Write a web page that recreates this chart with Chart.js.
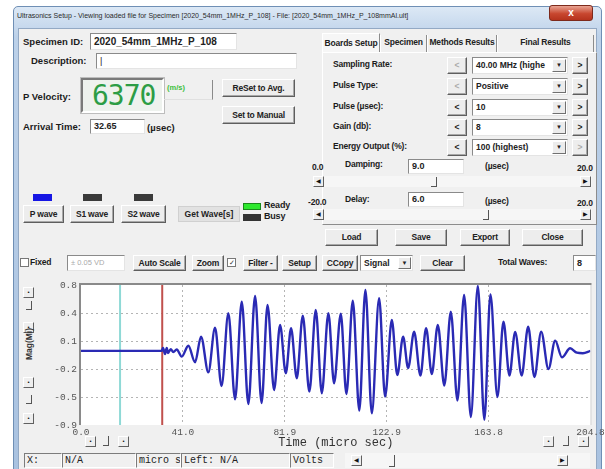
<!DOCTYPE html>
<html>
<head>
<meta charset="utf-8">
<title>Ultrasonics Setup</title>
<script src="https://cdn.jsdelivr.net/npm/chart.js@4.4.1/dist/chart.umd.min.js"></script>
<style>
  html, body { margin: 0; padding: 0; }
  body { width: 605px; height: 469px; position: relative; overflow: hidden; background: #fff;
         font-family: 'Liberation Sans', Arial, sans-serif; }
  .abs { position: absolute; box-sizing: border-box; white-space: nowrap; overflow: hidden; }
  .frame { background: linear-gradient(#dce8f5, #bcd1e9 30px, #a9c2e0); border: 1px solid #6f8fb5; border-radius: 5px 5px 0 0; }
  .content { background: #f0f0f0; border: 1px solid #93a9c4; }
  .title { font-size: 7px; color: #2b2b2b; }
  .close { background: linear-gradient(#e9a493, #c8472f 55%, #b5331d); border: 1px solid #7d2a1c; border-radius: 3px;
           color: #fff; font-weight: bold; font-size: 10px; text-align: center; }
  .lbl { font-weight: bold; font-size: 9.5px; color: #1c1c1c; overflow: visible; }
  .lbl2 { font-weight: bold; font-size: 8.5px; letter-spacing: -0.2px; color: #1c1c1c; overflow: visible; }
  .btn { background: #ededed; border: 1px solid; border-color: #fff #5e5e5e #5e5e5e #fff; box-shadow: inset -1px -1px 0 #a8a8a8;
         text-align: center; font-weight: bold; font-size: 8.5px; letter-spacing: -0.2px; color: #222; }
  .flat { background: #e2e2e2; border: 1px solid #d0d0d0; text-align: center; font-weight: bold; font-size: 8.5px; color: #222; }
  .inp { background: #fff; border: 1px solid; border-color: #8a8a8a #e4e4e4 #e4e4e4 #8a8a8a; padding-left: 3px;
         font-weight: bold; font-size: 9px; color: #222; }
  .combo { background: #fff; border: 1px solid; border-color: #8a8a8a #e4e4e4 #e4e4e4 #8a8a8a; padding-left: 3px;
           font-weight: bold; font-size: 8.5px; color: #222; }
  .drop { background: #ececec; border: 1px solid; border-color: #fff #707070 #707070 #fff; font-size: 6px; text-align: center; color: #222; }
  .dis { color: #aaa; }
  .lcd { background: #eef2ee; border: 2px solid; border-color: #7a7a7a #fff #fff #7a7a7a; box-shadow: 0 0 0 1px #bdbdbd;
         font-family: 'DejaVu Sans Mono', monospace; font-size: 28px; color: #2c9d45; letter-spacing: -1px; padding-left: 9px; }
  .unit { font-weight: bold; font-size: 7.5px; color: #3bbf3b; overflow: visible; }
  .tab { border-left: 1px solid #fff; border-right: 1px solid #8c8c8c; text-align: center; font-weight: bold; font-size: 8.5px;
         letter-spacing: -0.2px; color: #222; }
  .tab.sel { background: #f6f6f6; border-top: 1px solid #fff; }
  .page { border: 1px solid; border-color: #fff #8c8c8c #8c8c8c #fff; }
  .track { background: #f6f6f6; }
  .sb { background: #eeeeee; border: 1px solid; border-color: #fff #606060 #606060 #fff; font-size: 6px; text-align: center; color: #111; }
  .thumb { border-right: 1px solid #555; border-bottom: 1px solid #555; }
  .chk { background: #fff; border: 1px solid #777; font-size: 7px; text-align: center; color: #333; }
  .st { background: #f0f0f0; border: 1px solid; border-color: #7c7c7c #fff #fff #7c7c7c;
        font-family: 'Liberation Mono', monospace; font-size: 10px; color: #222; padding-left: 2px; }
  .ytitle { font-weight: bold; font-size: 8.5px; color: #333; transform: rotate(-90deg); transform-origin: center; text-align: center; overflow: visible; }
  #wave { position: absolute; left: 0; top: 276px; }
</style>
</head>
<body>
<div id="ui"></div>
<canvas id="wave" width="605" height="174"></canvas>
<script>
// Waveform (time in micro sec, magnitude)
const waveTimes = [
  0, 32.45, 32.97, 33.78, 34.46, 34.98, 36.07, 37.11, 38.48, 40.49,
  43.15, 45.84, 48.25, 51.19, 53.88, 56.50, 59.23, 61.92, 64.62, 67.27,
  69.97, 72.58, 74.99, 77.61, 80.02, 82.31, 84.44, 86.73, 89.15, 91.80,
  94.37, 96.79, 99.44, 101.73, 104.42, 106.68, 109.25, 111.87, 114.32, 116.89,
  119.83, 122.24, 124.93, 127.14, 129.48, 131.49, 133.90, 136.44, 138.72, 141.01,
  143.43, 146.04, 148.66, 151.31, 154.00, 156.70, 159.51, 162.12, 164.58, 167.39,
  169.81, 172.22, 174.51, 177.13, 179.74, 182.27, 184.97, 187.90, 190.60, 193.33,
  196.62, 199.32, 201.73, 204.8
];
const waveAmps = [
  0, 0, 0.035, -0.038, 0.035, -0.025, 0.02, -0.013, 0.017, -0.07,
  0.063, -0.138, 0.172, -0.26, 0.282, -0.426, 0.457, -0.588, 0.597, -0.645,
  0.667, -0.633, 0.557, -0.475, 0.315, -0.272, 0.274, -0.333, 0.427, -0.495,
  0.497, -0.515, 0.457, -0.393, 0.45, -0.523, 0.61, -0.724, 0.74, -0.758,
  0.639, -0.556, 0.375, -0.293, 0.172, -0.208, 0.233, -0.299, 0.274, -0.281,
  0.315, -0.42, 0.476, -0.602, 0.679, -0.803, 0.788, -0.835, 0.685, -0.56,
  0.355, -0.299, 0.23, -0.299, 0.294, -0.317, 0.233, -0.22, 0.124, -0.078,
  0.032, -0.022, -0.028, 0
];

// Cursor lines: start cursor and picked arrival time
const cursorTimes = [15.7, 32.65];

// Axis ticks (the app truncates its y labels)
const xTickValues = [0, 40.96, 81.92, 122.88, 163.84, 204.8];
const xTickLabels = ['0.0', '41.0', '81.9', '122.9', '163.8', '204.8'];
const yTickValues = [-0.9, -0.56, -0.22, 0.12, 0.46, 0.8];
const yTickLabels = ['-0.9', '-0.5', '-0.2', '0.1', '0.4', '0.8'];

// ---------- dialog around the chart ----------
const ui = document.getElementById('ui');
function el(cls, x, y, w, h, text, extra) {
  const d = document.createElement('div');
  d.className = 'abs ' + cls;
  d.style.left = x + 'px';
  d.style.top = y + 'px';
  if (w) d.style.width = w + 'px';
  if (h) { d.style.height = h + 'px'; d.style.lineHeight = (h - 2) + 'px'; }
  if (text) d.innerHTML = text;
  if (extra) Object.assign(d.style, extra);
  ui.appendChild(d);
  return d;
}

el('frame', 13, 6, 589, 470);
el('content', 18, 28, 579, 450);
el('title', 17, 9, 420, 16, 'Ultrasonics Setup - Viewing loaded file for Specimen [2020_54mm_1MHz_P_108] - File: [2020_54mm_1MHz_P_108mmAl.ult]');
el('close', 549, 5, 44, 16, 'x');

// left block
el('lbl', 23, 35, 0, 15, 'Specimen ID:');
el('inp', 90, 33, 147, 17, '2020_54mm_1MHz_P_108', { fontSize: '10px' });
el('lbl', 31, 54, 0, 15, 'Description:');
el('inp', 96, 53, 201, 16, '<span style="font-weight:normal">|</span>');
el('lbl', 23, 90, 0, 15, 'P Velocity:');
el('lcd', 81, 78, 83, 35, '6370', { lineHeight: '31px' });
el('abs', 164, 80, 49, 20, '', { borderRight: '1px solid #8a8a8a', borderBottom: '1px solid #e0e0e0' });
el('unit', 167, 83, 0, 12, '(m/s)');
el('btn', 222, 79, 73, 18, 'ReSet to Avg.');
el('btn', 222, 106, 73, 18, 'Set to Manual');
el('lbl', 23, 120, 0, 15, 'Arrival Time:');
el('inp', 90, 119, 55, 15, '32.65');
el('lbl', 147, 121, 0, 15, '(µsec)');

el('abs', 33, 194, 19, 7, '', { background: '#1616e4' });
el('abs', 83, 194, 19, 7, '', { background: '#3a3a3a' });
el('abs', 134, 194, 19, 7, '', { background: '#3a3a3a' });
el('btn', 23, 205, 41, 18, 'P wave');
el('btn', 70, 205, 44, 18, 'S1 wave');
el('btn', 121, 205, 45, 18, 'S2 wave');
el('flat', 178, 206, 62, 16, 'Get Wave[s]');
el('abs', 243, 203, 18, 7, '', { background: '#2ee82e', border: '1px solid #1a8a1a' });
el('abs', 243, 214, 18, 7, '', { background: '#333' });
el('lbl2', 264, 200, 0, 13, 'Ready', { fontSize: '9px' });
el('lbl2', 264, 211, 0, 13, 'Busy', { fontSize: '9px' });

// right block: tab page
el('tab sel', 322, 33, 58, 20, 'Boards Setup');
el('tab', 380, 35, 47, 17, 'Specimen');
el('tab', 427, 35, 70, 17, 'Methods Results');
el('tab', 497, 35, 97, 17, 'Final Results');
el('page', 322, 52, 275, 173);

const rows = [
  ['Sampling Rate:', 57, '40.00 MHz (highe', true, false],
  ['Pulse Type:', 78, 'Positive', true, false],
  ['Pulse (µsec):', 99, '10', false, false],
  ['Gain (db):', 119, '8', false, false],
  ['Energy Output (%):', 139, '100 (highest)', false, true]
];
rows.forEach(r => {
  el('lbl2', 333, r[1], 0, 17, r[0]);
  el('btn' + (r[3] ? ' dis' : ''), 447, r[1], 20, 17, '&lt;');
  el('combo', 472, r[1], 96, 17, r[2]);
  el('drop', 552, r[1] + 2, 14, 13, '▼');
  el('btn' + (r[4] ? ' dis' : ''), 572, r[1], 16, 17, '&gt;');
});

el('lbl2', 312, 161, 0, 14, '0.0');
el('lbl2', 345, 158, 0, 14, 'Damping:');
el('inp', 408, 159, 56, 15, '9.0');
el('lbl2', 485, 160, 0, 14, '(µsec)');
el('lbl2', 577, 162, 0, 14, '20.0');
el('track', 313, 176, 279, 11);
el('sb', 313, 176, 11, 11, '◀');
el('sb', 580, 176, 11, 11, '▶');
el('thumb', 431, 177, 6, 10);

el('lbl2', 308, 196, 0, 14, '-20.0');
el('lbl2', 345, 193, 0, 14, 'Delay:');
el('inp', 408, 192, 56, 15, '6.0');
el('lbl2', 485, 195, 0, 14, '(µsec)');
el('lbl2', 577, 197, 0, 14, '20.0');
el('track', 313, 209, 279, 11);
el('sb', 313, 209, 11, 11, '◀');
el('sb', 580, 209, 11, 11, '▶');
el('thumb', 483, 210, 6, 10);

el('btn', 325, 229, 53, 17, 'Load');
el('btn', 395, 229, 52, 17, 'Save');
el('btn', 460, 229, 50, 17, 'Export');
el('btn', 522, 229, 61, 17, 'Close');

// toolbar above the plot
el('chk', 20, 258, 9, 9, '');
el('lbl2', 30, 256, 0, 14, 'Fixed');
el('combo dis', 67, 255, 58, 16, '± 0.05 VD', { fontWeight: 'normal', fontSize: '7.5px' });
el('btn', 133, 255, 53, 16, 'Auto Scale');
el('btn', 192, 255, 32, 16, 'Zoom');
el('chk', 227, 258, 9, 9, '✓');
el('btn', 243, 255, 35, 16, 'Filter -');
el('btn', 282, 255, 35, 16, 'Setup');
el('btn', 322, 255, 36, 16, 'CCopy');
el('combo', 360, 255, 53, 16, 'Signal');
el('drop', 398, 257, 13, 12, '▼');
el('btn', 420, 255, 45, 16, 'Clear');
el('lbl2', 498, 256, 0, 14, 'Total Waves:');
el('inp', 573, 255, 23, 16, '8');

// small scroll buttons round the plot
el('sb', 23, 287, 11, 11, '•');
el('thumb', 26, 301, 6, 9);
el('sb', 23, 322, 11, 11, '•');
el('sb', 23, 377, 11, 11, '•');
el('thumb', 26, 395, 6, 9);
el('sb', 23, 413, 11, 11, '•');
el('ytitle', 0, 337, 60, 12, 'Mag(Mi)', { top: '338px', left: '0px' });
el('sb', 85, 436, 11, 11, '•');
el('thumb', 103, 436, 6, 10);
el('sb', 118, 436, 11, 11, '•');
el('sb', 543, 436, 11, 11, '•');
el('thumb', 563, 436, 6, 10);
el('sb', 578, 436, 11, 11, '•');

// status bar
el('st', 24, 453, 38, 15, 'X:');
el('st', 62, 453, 74, 15, 'N/A');
el('st', 136, 453, 45, 15, 'micro s');
el('st', 181, 453, 109, 15, 'Left: N/A');
el('st', 290, 453, 44, 15, 'Volts');
el('track', 345, 453, 245, 15);
el('sb', 351, 455, 11, 11, '◀');
el('sb', 557, 455, 11, 11, '▶');
el('thumb', 389, 455, 6, 12);

// ---------- waveform chart ----------
const wavePoints = waveTimes.map((t, i) => ({ x: t, y: waveAmps[i] }));
const cursorColors = ['#8fd9d6', '#c0504d'];
const cursorSets = cursorTimes.map((t, i) => ({
  data: [{ x: t, y: yTickValues[0] }, { x: t, y: yTickValues[yTickValues.length - 1] }],
  borderColor: cursorColors[i],
  borderWidth: 2,
  pointRadius: 0,
  order: 2
}));

// white plot area with the app's grey frame
const plotFrame = {
  id: 'plotFrame',
  beforeDraw(chart) {
    const { ctx, chartArea: a } = chart;
    ctx.save();
    ctx.fillStyle = '#fff';
    ctx.fillRect(a.left, a.top, a.width, a.height);
    ctx.restore();
  },
  afterDraw(chart) {
    const { ctx, chartArea: a } = chart;
    ctx.save();
    ctx.strokeStyle = '#d4d4d4';
    ctx.lineWidth = 1;
    ctx.beginPath();
    ctx.moveTo(a.right + 0.5, a.top);
    ctx.lineTo(a.right + 0.5, a.bottom);
    ctx.stroke();
    ctx.strokeStyle = '#8a8a8a';
    ctx.lineWidth = 2;
    ctx.beginPath();
    ctx.moveTo(a.left - 1, a.bottom);
    ctx.lineTo(a.left - 1, a.top - 1);
    ctx.lineTo(a.right + 1, a.top - 1);
    ctx.stroke();
    ctx.restore();
  }
};

const innerGrid = ctx => (ctx.index === 0 || ctx.index === 5) ? 'rgba(0,0,0,0)' : '#b4b4b4';
const monoTicks = { family: "'Liberation Mono', monospace", size: 9.5 };

new Chart(document.getElementById('wave'), {
  type: 'line',
  data: {
    datasets: [
      {
        data: wavePoints,
        borderColor: '#2a2ab4',
        borderWidth: 2.4,
        pointRadius: 0,
        cubicInterpolationMode: 'monotone',
        order: 1
      },
      ...cursorSets
    ]
  },
  options: {
    responsive: false,
    animation: false,
    devicePixelRatio: 1,
    layout: { padding: { left: 0, right: 14.5, top: 9, bottom: 0 } },
    plugins: { legend: { display: false }, tooltip: { enabled: false } },
    scales: {
      x: {
        type: 'linear',
        min: 0,
        max: 204.8,
        afterBuildTicks: s => { s.ticks = xTickValues.map(v => ({ value: v })); },
        afterFit: s => { s.height = 25; s.paddingLeft = 0; s.paddingRight = 0; },
        ticks: { callback: (v, i) => xTickLabels[i], font: monoTicks, color: '#555', padding: 2, maxRotation: 0 },
        grid: { color: innerGrid, drawTicks: false, lineWidth: 1 },
        border: { display: false, dash: [2, 3] },
        title: { display: true, text: 'Time (micro sec)', color: '#333',
                 font: { family: "'Liberation Mono', monospace", size: 12 }, padding: 0 }
      },
      y: {
        type: 'linear',
        min: -0.9,
        max: 0.8,
        afterBuildTicks: s => { s.ticks = yTickValues.map(v => ({ value: v })); },
        afterFit: s => { s.width = 81; s.paddingTop = 0; s.paddingBottom = 0; },
        ticks: { callback: (v, i) => yTickLabels[i], font: monoTicks, color: '#555', padding: 4 },
        grid: { color: innerGrid, drawTicks: false, lineWidth: 1 },
        border: { display: false, dash: [2, 3] }
      }
    }
  },
  plugins: [plotFrame]
});
</script>
</body>
</html>
